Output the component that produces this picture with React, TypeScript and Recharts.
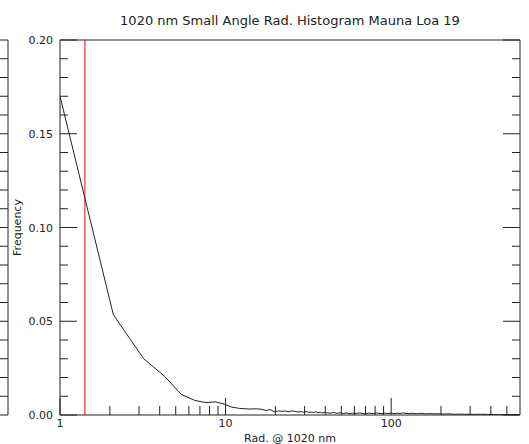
import React from 'react';
import { LineChart, Line, XAxis, YAxis, ReferenceLine } from 'recharts';

const TITLE = '1020 nm Small Angle Rad. Histogram Mauna Loa 19';
const X_LABEL = 'Rad. @ 1020 nm';
const Y_LABEL = 'Frequency';

// bin positions (radiance) and frequencies
const RAD = [
  1.0, 2.1, 3.2, 4.3, 5.4, 6.5, 7.6, 8.7, 9.8, 10.9,
  12.0, 13.1, 14.2, 15.3, 16.4, 17.5, 18.6, 19.7, 20.8, 21.9,
  23.0, 24.1, 25.2, 26.3, 27.4, 28.5, 29.6, 30.7, 31.8, 32.9,
  34.0, 35.1, 36.2, 37.3, 38.4, 39.5, 40.6, 42.8, 45.0, 47.2,
  49.4, 51.6, 53.8, 56.0, 58.2, 60.4, 64.8, 69.2, 73.6, 78.0,
  82.4, 86.8, 91.2, 95.6, 100.0, 104.4, 108.8, 113.2, 117.6, 126.4,
  135.2, 144.0, 152.8, 161.6, 170.4, 179.2, 188.0, 205.6, 223.2, 240.8,
  258.4, 276.0, 293.6, 311.2, 346.4, 381.6, 416.8, 452.0, 487.2, 522.4,
  557.6, 592.8,
];
const FREQ = [
  0.170, 0.0535, 0.030, 0.0205, 0.011, 0.0078, 0.0066, 0.007, 0.0058, 0.0042,
  0.0036, 0.0033, 0.0032, 0.0033, 0.0031, 0.0024, 0.0029, 0.0017, 0.0022, 0.002,
  0.0021, 0.0017, 0.0022, 0.0019, 0.0016, 0.0018, 0.0015, 0.0019, 0.0014, 0.0016,
  0.0013, 0.0017, 0.0012, 0.0015, 0.0011, 0.0014, 0.0012, 0.001, 0.0013, 0.0009,
  0.0012, 0.0008, 0.0011, 0.0007, 0.001, 0.0008, 0.0011, 0.0007, 0.001, 0.0008,
  0.0011, 0.0007, 0.001, 0.0008, 0.0011, 0.0007, 0.001, 0.0008, 0.0011, 0.0007,
  0.0009, 0.0007, 0.0009, 0.0006, 0.0008, 0.0006, 0.0007, 0.0005, 0.0006, 0.0004,
  0.0005, 0.0004, 0.0004, 0.0003, 0.0004, 0.0003, 0.0003, 0.0002, 0.0003, 0.0002,
  0.0003, 0.0002,
];

const X_TICKS = [1, 2, 3, 4, 5, 6, 7, 8, 9, 10, 20, 30, 40, 50, 60, 70, 80, 90, 100, 200, 300, 400, 500];
const X_MAJOR = [1, 10, 100];
const Y_TICKS = [
  0, 0.01, 0.02, 0.03, 0.04, 0.05, 0.06, 0.07, 0.08, 0.09, 0.1,
  0.11, 0.12, 0.13, 0.14, 0.15, 0.16, 0.17, 0.18, 0.19, 0.2,
];
const Y_MAJOR = [0, 0.05, 0.1, 0.15, 0.2];
const CUTOFF = 1.414;

const INK = '#222';
const FONT = '"DejaVu Sans", Verdana, sans-serif';

const data = RAD.map((r, i) => ({ rad: r, freq: FREQ[i] }));

const isMajorY = (v: number) => Y_MAJOR.some((m) => Math.abs(m - v) < 1e-9);

const BottomTick = (props: any) => {
  const { x, y, payload } = props;
  const major = X_MAJOR.includes(payload.value);
  return (
    <g>
      <line x1={x} x2={x} y1={y} y2={y - (major ? 17 : 9)} stroke={INK} />
      {major && (
        <text x={x} y={y + 12} textAnchor="middle" fontSize={11} fontFamily={FONT} fill={INK}>
          {payload.value}
        </text>
      )}
    </g>
  );
};

const TopTick = (props: any) => {
  const { x, y, payload } = props;
  const major = X_MAJOR.includes(payload.value);
  return <line x1={x} x2={x} y1={y} y2={y + (major ? 17 : 9)} stroke={INK} />;
};

const LeftTick = (props: any) => {
  const { x, y, payload } = props;
  const major = isMajorY(payload.value);
  return (
    <g>
      <line x1={x} x2={x + (major ? 17 : 8)} y1={y} y2={y} stroke={INK} />
      {major && (
        <text x={x - 7} y={y + 4} textAnchor="end" fontSize={11} fontFamily={FONT} fill={INK}>
          {payload.value.toFixed(2)}
        </text>
      )}
    </g>
  );
};

const RightTick = (props: any) => {
  const { x, y, payload } = props;
  const major = isMajorY(payload.value);
  return <line x1={x} x2={x - (major ? 17 : 8)} y1={y} y2={y} stroke={INK} />;
};

// edge of the neighbouring panel, cut off at the left border
const GhostTick = (props: any) => {
  const { x, y } = props;
  return <line x1={x - 8} x2={x} y1={y} y2={y} stroke={INK} />;
};

export default function App() {
  return (
    <div style={{ position: 'absolute', left: 0, top: 0, width: 529, height: 444, background: '#fff' }}>
      <LineChart width={529} height={444} data={data} margin={{ top: 0, right: 0, bottom: 0, left: 0 }}>
        <XAxis
          xAxisId="b"
          dataKey="rad"
          type="number"
          scale="log"
          domain={[1, 600]}
          allowDataOverflow
          ticks={X_TICKS}
          interval={0}
          height={29}
          tickSize={0}
          tickMargin={0}
          tickLine={false}
          tick={<BottomTick />}
          axisLine={{ stroke: INK }}
          label={(p: any) => (
            <text
              x={p.viewBox.x + p.viewBox.width / 2}
              y={p.viewBox.y + p.viewBox.height - 2}
              textAnchor="middle"
              fontSize={11}
              fontFamily={FONT}
              fill={INK}
            >
              {X_LABEL}
            </text>
          )}
        />
        <XAxis
          xAxisId="t"
          orientation="top"
          type="number"
          scale="log"
          domain={[1, 600]}
          allowDataOverflow
          ticks={X_TICKS}
          interval={0}
          height={40}
          tickSize={0}
          tickMargin={0}
          tickLine={false}
          tick={<TopTick />}
          axisLine={{ stroke: INK }}
          label={(p: any) => (
            <text
              x={p.viewBox.x + p.viewBox.width / 2}
              y={25}
              textAnchor="middle"
              fontSize={13}
              fontFamily={FONT}
              fill={INK}
            >
              {TITLE}
            </text>
          )}
        />
        <YAxis
          yAxisId="a"
          type="number"
          domain={[0, 0.2]}
          allowDataOverflow
          ticks={Y_TICKS}
          interval={0}
          width={52}
          tickSize={0}
          tickMargin={0}
          tickLine={false}
          tick={<LeftTick />}
          axisLine={{ stroke: INK }}
          label={(p: any) => (
            <text
              transform={`translate(${p.viewBox.x + 13},${p.viewBox.y + p.viewBox.height / 2}) rotate(-90)`}
              textAnchor="middle"
              fontSize={11}
              fontFamily={FONT}
              fill={INK}
            >
              {Y_LABEL}
            </text>
          )}
        />
        <YAxis
          yAxisId="z"
          type="number"
          domain={[0, 0.2]}
          allowDataOverflow
          ticks={Y_TICKS}
          interval={0}
          width={8}
          tickSize={0}
          tickMargin={0}
          tickLine={false}
          tick={<GhostTick />}
          axisLine={{ stroke: INK }}
        />
        <YAxis
          yAxisId="r"
          orientation="right"
          type="number"
          domain={[0, 0.2]}
          allowDataOverflow
          ticks={Y_TICKS}
          interval={0}
          width={9}
          tickSize={0}
          tickMargin={0}
          tickLine={false}
          tick={<RightTick />}
          axisLine={{ stroke: INK }}
        />
        <ReferenceLine xAxisId="b" yAxisId="a" x={CUTOFF} stroke="#ff0000" strokeWidth={1} />
        <Line
          xAxisId="b"
          yAxisId="a"
          type="linear"
          dataKey="freq"
          stroke={INK}
          strokeWidth={1}
          dot={false}
          isAnimationActive={false}
        />
      </LineChart>
    </div>
  );
}
